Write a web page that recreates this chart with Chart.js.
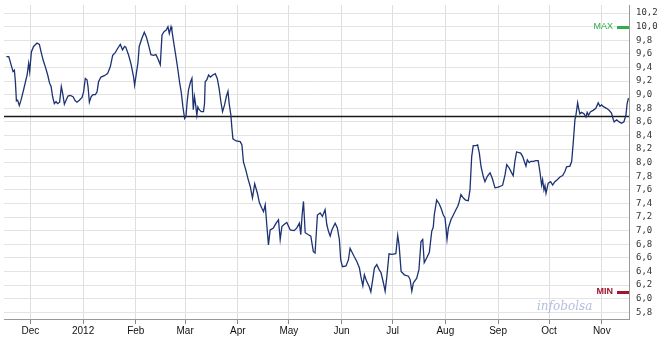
<!DOCTYPE html>
<html>
<head>
<meta charset="utf-8">
<script src="https://cdn.jsdelivr.net/npm/chart.js@4.4.1/dist/chart.umd.min.js"></script>
<style>
  html, body { margin: 0; padding: 0; background: #fff; }
</style>
</head>
<body>
<canvas id="myChart" width="661" height="343"></canvas>
<script>
// x values are days counted from 1 Dec 2011
var days = [
  -14.1,-12.7,-11.3,-10.2,-9.4,-8.8,-8.2,-7.5,-6.5,-5.5,
  -3.9,-1.9,-1.0,-0.4,0.6,1.9,3.9,5.3,6.3,7.5,
  8.8,10.2,11.3,12.2,13.1,14.1,15.1,16.0,17.2,18.2,
  19.0,20.0,21.0,22.1,23.5,25.1,26.4,27.4,28.8,30.4,
  31.3,32.3,33.3,33.9,34.7,35.7,36.8,38.2,39.2,40.1,
  41.5,43.5,45.4,47.0,48.4,49.9,51.3,52.9,54.2,55.4,
  56.1,57.8,59.3,60.7,61.3,62.3,63.3,64.0,65.6,67.0,
  68.2,69.5,70.9,72.4,73.8,75.0,76.4,77.4,78.7,79.9,
  80.9,81.7,82.7,83.2,84.2,85.6,86.8,87.7,88.7,89.7,
  90.7,91.5,92.2,93.0,94.2,95.0,95.8,96.5,97.1,97.9,
  98.5,99.3,100.5,101.8,102.4,102.8,103.8,104.8,105.9,107.3,
  108.7,109.9,111.0,112.0,113.0,114.2,115.2,116.2,116.9,117.9,
  118.5,119.1,121.0,123.4,124.4,125.3,126.7,127.9,129.3,130.6,
  131.9,133.5,134.7,136.1,137.1,138.1,139.1,140.0,141.0,142.9,
  144.5,145.9,146.9,147.9,149.2,150.8,152.8,155.1,156.7,158.2,
  159.0,159.8,160.6,161.6,163.5,164.9,166.4,167.4,168.8,170.4,
  171.7,173.3,174.3,175.3,176.3,177.3,179.2,180.5,181.7,182.5,
  183.5,185.6,187.0,188.0,189.0,190.4,191.9,193.5,194.3,195.5,
  196.4,197.8,199.2,200.2,201.3,202.3,203.7,205.0,206.2,207.6,
  208.6,209.6,210.9,212.5,214.9,216.0,216.8,218.0,219.9,222.3,
  223.3,224.3,225.2,227.2,228.5,229.7,230.7,231.6,233.1,234.6,
  236.0,236.9,237.5,238.9,240.3,241.5,242.8,243.8,244.4,245.0,
  245.8,247.3,248.7,250.3,251.3,252.0,253.2,254.6,255.9,257.5,
  258.5,259.5,260.4,262.0,263.0,264.0,265.0,266.3,267.3,268.7,
  270.3,271.6,273.2,275.1,277.1,277.7,279.1,280.1,281.6,283.0,
  283.9,284.9,285.9,286.9,288.3,289.5,290.4,291.4,292.2,293.3,
  294.3,295.7,297.3,298.6,299.6,300.6,301.2,302.0,302.6,303.2,
  304.5,305.9,307.1,308.4,309.8,311.4,313.0,314.3,315.3,317.3,
  318.3,319.2,320.2,320.8,321.8,322.4,323.1,324.1,325.5,326.7,
  327.4,328.2,329.4,330.9,332.5,333.9,334.9,335.9,337.2,338.8,
  340.3,341.7,342.7,343.3,344.7,346.2,347.6,349.0,350.2,350.9,
  351.7
];

// share price
var prices = [
  9.56,9.56,9.44,9.34,9.36,9.19,8.91,8.92,8.84,8.92,
  9.08,9.29,9.46,9.34,9.63,9.71,9.76,9.74,9.63,9.51,
  9.41,9.29,9.17,9.12,8.97,8.87,8.90,8.87,8.89,9.12,
  9.02,8.86,8.92,8.98,8.99,8.97,8.91,8.89,8.92,8.96,
  9.04,9.24,9.22,9.12,8.89,8.97,9.00,9.00,9.04,9.19,
  9.26,9.28,9.31,9.41,9.58,9.62,9.68,9.74,9.66,9.71,
  9.70,9.58,9.44,9.26,9.14,9.31,9.48,9.71,9.83,9.92,
  9.85,9.73,9.59,9.58,9.59,9.53,9.44,9.88,9.93,9.95,
  10.00,9.90,10.00,9.95,9.78,9.56,9.36,9.19,9.04,8.82,
  8.65,8.68,8.90,9.07,9.19,9.24,8.78,8.97,8.87,8.70,
  8.82,8.78,8.75,8.75,8.87,9.19,9.22,9.29,9.26,9.29,
  9.31,9.24,9.09,8.90,8.75,8.85,8.97,9.05,8.87,8.70,
  8.51,8.35,8.32,8.31,8.26,8.01,7.89,7.77,7.65,7.48,
  7.69,7.55,7.41,7.33,7.28,7.38,7.06,6.79,7.01,7.04,
  7.11,7.16,6.87,7.06,7.09,7.12,7.01,7.00,7.04,7.11,
  6.94,7.23,7.43,6.97,6.94,6.92,6.69,6.67,7.23,7.26,
  7.21,7.31,7.09,6.99,6.92,7.01,7.11,7.04,6.87,6.57,
  6.47,6.48,6.57,6.74,6.69,6.62,6.55,6.45,6.33,6.19,
  6.35,6.25,6.18,6.10,6.28,6.45,6.50,6.43,6.38,6.23,
  6.11,6.32,6.66,6.65,6.66,6.93,6.79,6.40,6.35,6.33,
  6.28,6.11,6.23,6.30,6.43,6.84,6.87,6.53,6.60,6.68,
  6.99,7.05,7.23,7.45,7.40,7.33,7.23,7.19,7.04,6.87,
  7.04,7.16,7.23,7.31,7.36,7.41,7.53,7.48,7.45,7.44,
  7.60,8.09,8.25,8.25,8.26,8.14,7.94,7.80,7.72,7.80,
  7.85,7.77,7.63,7.64,7.66,7.67,7.82,7.97,7.92,7.85,
  7.81,8.02,8.16,8.15,8.14,8.09,8.02,7.95,8.04,8.00,
  8.02,8.02,8.03,8.03,7.87,7.67,7.75,7.60,7.66,7.55,
  7.70,7.72,7.67,7.72,7.75,7.79,7.81,7.87,7.94,7.95,
  8.02,8.29,8.63,8.70,8.88,8.80,8.72,8.74,8.72,8.67,
  8.74,8.70,8.75,8.77,8.80,8.88,8.83,8.85,8.82,8.80,
  8.77,8.73,8.64,8.60,8.63,8.60,8.58,8.60,8.70,8.87,
  8.95
];

// month ticks (day offsets from 1 Dec 2011) and their labels
var monthTicks = [0, 31, 62, 91, 122, 152, 183, 213, 244, 275, 305, 336];
var monthLabels = ["Dec", "2012", "Feb", "Mar", "Apr", "May", "Jun", "Jul", "Aug", "Sep", "Oct", "Nov"];

// price axis ticks
var priceTicks = [5.8, 6.0, 6.2, 6.4, 6.6, 6.8, 7.0, 7.2, 7.4, 7.6, 7.8, 8.0,
                  8.2, 8.4, 8.6, 8.8, 9.0, 9.2, 9.4, 9.6, 9.8, 10.0, 10.2];

// reference price (black horizontal line)
var refLevel = 8.69;

var maxPrice = Math.max.apply(null, prices);
var minPrice = Math.min.apply(null, prices);

var points = [];
for (var i = 0; i < days.length; i++) {
  points.push({ x: days[i], y: prices[i] });
}

// reference line, MAX / MIN markers and watermark
var overlay = {
  id: 'overlay',
  beforeDatasetsDraw: function(chart) {
    var ctx = chart.ctx, area = chart.chartArea;
    var y = Math.round(chart.scales.y.getPixelForValue(refLevel)) + 0.5;
    ctx.save();
    ctx.strokeStyle = '#1a1a1a';
    ctx.lineWidth = 1.4;
    ctx.beginPath();
    ctx.moveTo(area.left, y);
    ctx.lineTo(area.right, y);
    ctx.stroke();

    // watermark
    ctx.font = 'italic 12px "DejaVu Serif"';
    ctx.fillStyle = 'rgba(140,155,205,0.65)';
    ctx.textAlign = 'left';
    ctx.textBaseline = 'alphabetic';
    ctx.fillText('infobolsa', area.right - 92, area.bottom - 9);
    ctx.restore();
  },
  afterDatasetsDraw: function(chart) {
    var ctx = chart.ctx, area = chart.chartArea, ys = chart.scales.y;
    var marks = [
      { text: 'MAX', value: maxPrice, color: '#2fae4e', weight: 'normal' },
      { text: 'MIN', value: minPrice, color: '#a3162e', weight: 'bold' }
    ];
    ctx.save();
    ctx.textAlign = 'right';
    ctx.textBaseline = 'middle';
    marks.forEach(function(m) {
      var y = Math.round(ys.getPixelForValue(m.value));
      ctx.font = m.weight + ' 9px "Liberation Sans"';
      ctx.fillStyle = m.color;
      ctx.fillText(m.text, area.right - 16, y);
      ctx.fillRect(area.right - 12, y - 1, 12, 3);
    });
    ctx.restore();
  }
};

var ctx = document.getElementById('myChart');

var myChart = new Chart(ctx, {
  type: 'line',
  data: {
    datasets: [{
      data: points,
      borderColor: '#1c3272',
      borderWidth: 1.3,
      pointRadius: 0,
      tension: 0,
      fill: false
    }]
  },
  options: {
    responsive: false,
    animation: false,
    devicePixelRatio: 1,
    events: [],
    layout: { padding: { left: 4, top: 5, right: 0, bottom: 0 } },
    plugins: {
      legend: { display: false },
      tooltip: { enabled: false }
    },
    scales: {
      x: {
        type: 'linear',
        min: -15.5,
        max: 352,
        afterBuildTicks: function(scale) {
          scale.ticks = monthTicks.map(function(v) { return { value: v }; });
        },
        afterFit: function(scale) {
          scale.height = 24;
          scale.paddingLeft = 0;
          scale.paddingRight = 0;
        },
        ticks: {
          autoSkip: false,
          maxRotation: 0,
          padding: 1,
          color: '#111',
          font: { family: '"Liberation Sans", Arial', size: 10 },
          callback: function(value) {
            var k = monthTicks.indexOf(value);
            return k >= 0 ? monthLabels[k] : '';
          }
        },
        grid: {
          color: '#dedede',
          tickColor: '#888',
          tickLength: 5,
          lineWidth: 1
        },
        border: { color: '#999', width: 1 }
      },
      y: {
        type: 'linear',
        position: 'right',
        min: 5.7,
        max: 10.32,
        afterBuildTicks: function(scale) {
          scale.ticks = priceTicks.map(function(v) { return { value: v }; });
        },
        afterFit: function(scale) {
          scale.width = 32;
          scale.paddingTop = 0;
          scale.paddingBottom = 0;
        },
        ticks: {
          autoSkip: false,
          padding: 7,
          color: '#333',
          font: { family: '"DejaVu Sans Mono"', size: 9 },
          callback: function(value) {
            return value.toFixed(1).replace('.', ',');
          }
        },
        grid: {
          color: '#e3e3e3',
          drawTicks: false,
          lineWidth: 1
        },
        border: { color: '#999', width: 1 }
      }
    }
  },
  plugins: [overlay]
});
</script>
</body>
</html>
